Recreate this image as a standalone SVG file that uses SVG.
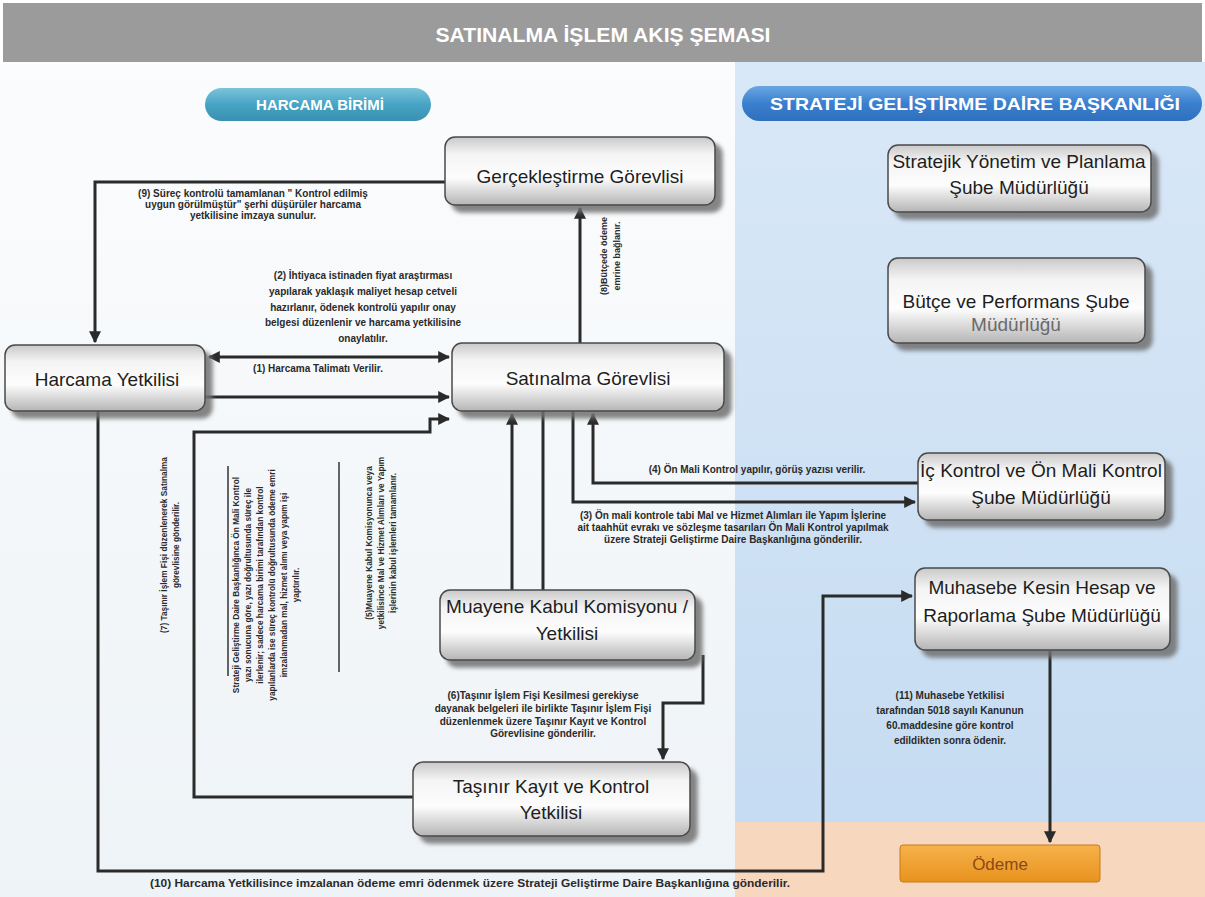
<svg xmlns="http://www.w3.org/2000/svg" width="1205" height="897" viewBox="0 0 1205 897">
<defs>
<linearGradient id="gBox" x1="0" y1="0" x2="0" y2="1">
<stop offset="0" stop-color="#c9c9c9"/><stop offset="0.25" stop-color="#f4f4f4"/><stop offset="0.6" stop-color="#fdfdfd"/><stop offset="1" stop-color="#b5b5b5"/>
</linearGradient>
<linearGradient id="gBlue" x1="0" y1="0" x2="0" y2="1"><stop offset="0" stop-color="#d9e8f7"/><stop offset="1" stop-color="#c6dcf2"/></linearGradient>
<linearGradient id="gLeft" x1="0" y1="0" x2="0" y2="1"><stop offset="0" stop-color="#fbfcfd"/><stop offset="1" stop-color="#eef3f7"/></linearGradient>
<linearGradient id="gPill1" x1="0" y1="0" x2="0" y2="1"><stop offset="0" stop-color="#7cc3dc"/><stop offset="0.5" stop-color="#46a4c4"/><stop offset="1" stop-color="#3a90b0"/></linearGradient>
<linearGradient id="gPill2" x1="0" y1="0" x2="0" y2="1"><stop offset="0" stop-color="#6aa6e2"/><stop offset="0.5" stop-color="#3a7fcf"/><stop offset="1" stop-color="#2f6fbd"/></linearGradient>
<linearGradient id="gOrange" x1="0" y1="0" x2="0" y2="1"><stop offset="0" stop-color="#f6b24a"/><stop offset="1" stop-color="#e8921e"/></linearGradient>
<filter id="sh" x="-10%" y="-20%" width="130%" height="160%"><feDropShadow dx="7" dy="7" stdDeviation="2" flood-color="#6f6f6f" flood-opacity="0.85"/></filter>
<marker id="ah" viewBox="0 0 10 10" refX="9" refY="5" markerWidth="4" markerHeight="4" orient="auto-start-reverse" markerUnits="strokeWidth"><path d="M0,0 L10,5 L0,10 z" fill="#2a2a2a"/></marker>
<style>
.box{fill:url(#gBox);stroke:#4a4a4a;stroke-width:1.5;filter:url(#sh)}
.nt{font-family:"Liberation Sans",Arial,sans-serif;font-size:19px;fill:#1e1e1e;text-anchor:middle}
.ann{font-family:"Liberation Sans",Arial,sans-serif;font-size:10px;fill:#2a2a2a;text-anchor:middle;font-weight:bold}
.vt{font-family:"Liberation Sans",Arial,sans-serif;font-size:8.3px;fill:#2a2a2a;text-anchor:middle;font-weight:bold}
.con{fill:none;stroke:#2a2a2a;stroke-width:3;stroke-linejoin:miter}
.arr{marker-end:url(#ah)}
.thin{fill:none;stroke:#333;stroke-width:1.5}
.pill{font-family:"Liberation Sans",Arial,sans-serif;font-weight:bold;fill:#fff;text-anchor:middle}
</style>
</defs>

<!-- background -->
<rect x="0" y="0" width="1205" height="897" fill="#ffffff"/>
<rect x="0" y="62" width="735" height="835" fill="url(#gLeft)"/>
<rect x="735" y="62" width="470" height="760" fill="url(#gBlue)"/>
<rect x="735" y="822" width="470" height="75" fill="#f7d8bf"/>
<rect x="3" y="3" width="1199" height="59" fill="#9b9b9b"/>
<text x="603" y="42" class="pill" font-size="20" textLength="335" lengthAdjust="spacingAndGlyphs">SATINALMA İŞLEM AKIŞ ŞEMASI</text>

<g id="lane-harcama">
<rect x="205" y="88" width="226" height="33" rx="16.5" fill="url(#gPill1)"/>
<text x="320" y="110" class="pill" font-size="15">HARCAMA BİRİMİ</text>
</g>
<g id="lane-sgdb">
<rect x="742" y="86" width="460" height="35" rx="17.5" fill="url(#gPill2)"/>
<text x="975" y="110" class="pill" font-size="17" textLength="410" lengthAdjust="spacingAndGlyphs">STRATEJİ GELİŞTİRME DAİRE BAŞKANLIĞI</text>
</g>

<!-- connectors -->
<g id="connectors">
<path class="con arr" d="M445,182 H95 V342"/>
<path class="con arr" d="M580,343 V208"/>
<path class="con arr" d="M209,357 H449" marker-start="url(#ah)"/>
<path class="con arr" d="M205,397 H449"/>
<path class="con arr" d="M512,590 V414"/>
<path class="con" d="M543,411 V590"/>
<path class="con arr" d="M703,655 V703 H663 V759"/>
<path class="con arr" d="M573,411 V502 H915"/>
<path class="con arr" d="M918,483 H593 V414"/>
<path class="con arr" d="M413,797 H194 V432 H430 V419 H449"/>
<path class="con arr" d="M98,411 V871 H823 V596 H912"/>
<path class="con arr" d="M1050,651 V842"/>
<path class="thin" d="M228,466 V676"/>
<path class="thin" d="M339,462 V672"/>
</g>

<!-- annotations -->
<g id="labels">
<text class="ann" x="253" y="197">(9) Süreç kontrolü tamamlanan " Kontrol edilmiş</text>
<text class="ann" x="253" y="208">uygun görülmüştür" şerhi düşürüler harcama</text>
<text class="ann" x="253" y="219">yetkilisine imzaya sunulur.</text>

<text class="ann" x="363" y="279">(2) İhtiyaca istinaden fiyat araştırması</text>
<text class="ann" x="363" y="295">yapılarak yaklaşık maliyet hesap cetveli</text>
<text class="ann" x="363" y="311">hazırlanır, ödenek kontrolü yapılır onay</text>
<text class="ann" x="363" y="326">belgesi düzenlenir ve harcama yetkilisine</text>
<text class="ann" x="363" y="342">onaylatılır.</text>
<text class="ann" x="318" y="372">(1) Harcama Talimatı Verilir.</text>

<text class="vt" style="font-size:9px" transform="translate(607,256) rotate(-90)">(8)Bütçede ödeme</text>
<text class="vt" style="font-size:9px" transform="translate(620,256) rotate(-90)">emrine bağlanır.</text>

<text class="ann" x="757" y="473">(4) Ön Mali Kontrol yapılır, görüş yazısı verilir.</text>
<text class="ann" x="733" y="519">(3) Ön mali kontrole tabi Mal ve Hizmet Alımları ile Yapım İşlerine</text>
<text class="ann" x="733" y="531">ait taahhüt evrakı ve sözleşme tasarıları Ön Mali Kontrol yapılmak</text>
<text class="ann" x="733" y="543">üzere Strateji Geliştirme Daire Başkanlığına gönderilir.</text>

<text class="vt" transform="translate(167,545) rotate(-90)">(7) Taşınır İşlem Fişi düzenlenerek Satınalma</text>
<text class="vt" transform="translate(179,545) rotate(-90)">görevlisine gönderilir.</text>

<text class="vt" transform="translate(239,585) rotate(-90)">Strateji Geliştirme Daire Başkanlığınca Ön Mali Kontrol</text>
<text class="vt" transform="translate(251,585) rotate(-90)">yazı sonucuna göre, yazı doğrultusunda süreç ile</text>
<text class="vt" transform="translate(263,585) rotate(-90)">ilerlenir; sadece harcama birimi tarafından kontrol</text>
<text class="vt" transform="translate(275,585) rotate(-90)">yapılanlarda ise süreç kontrolü doğrultusunda ödeme emri</text>
<text class="vt" transform="translate(287,585) rotate(-90)">imzalanmadan mal, hizmet alımı veya yapım işi</text>
<text class="vt" transform="translate(299,585) rotate(-90)">yaptırılır.</text>

<text class="vt" transform="translate(372,543) rotate(-90)">(5)Muayene Kabul Komisyonunca veya</text>
<text class="vt" transform="translate(384,543) rotate(-90)">yetkilisince Mal ve Hizmet Alımları ve Yapım</text>
<text class="vt" transform="translate(396,543) rotate(-90)">İşlerinin kabul işlemleri tamamlanır.</text>

<text class="ann" x="543" y="699">(6)Taşınır İşlem Fişi Kesilmesi gerekiyse</text>
<text class="ann" x="543" y="712">dayanak belgeleri ile birlikte Taşınır İşlem Fişi</text>
<text class="ann" x="543" y="725">düzenlenmek üzere Taşınır Kayıt ve Kontrol</text>
<text class="ann" x="543" y="737">Görevlisine gönderilir.</text>

<text class="ann" x="950" y="699">(11) Muhasebe Yetkilisi</text>
<text class="ann" x="950" y="714">tarafından 5018 sayılı Kanunun</text>
<text class="ann" x="950" y="729">60.maddesine göre kontrol</text>
<text class="ann" x="950" y="744">edildikten sonra ödenir.</text>

<text class="ann" x="470" y="887" textLength="640" lengthAdjust="spacingAndGlyphs">(10) Harcama Yetkilisince imzalanan ödeme emri ödenmek üzere Strateji Geliştirme Daire Başkanlığına gönderilir.</text>
</g>

<!-- nodes -->
<g id="n-gerceklestirme"><rect class="box" x="445" y="137" width="270" height="68" rx="10"/><text class="nt" x="580" y="183">Gerçekleştirme Görevlisi</text></g>
<g id="n-harcama"><rect class="box" x="5" y="345" width="200" height="66" rx="10"/><text class="nt" x="107" y="386">Harcama Yetkilisi</text></g>
<g id="n-satinalma"><rect class="box" x="452" y="343" width="272" height="68" rx="10"/><text class="nt" x="588" y="385">Satınalma Görevlisi</text></g>
<g id="n-stratejik"><rect class="box" x="888" y="145" width="263" height="67" rx="10"/><text class="nt" x="1019" y="168">Stratejik Yönetim ve Planlama</text><text class="nt" x="1019" y="194">Şube Müdürlüğü</text></g>
<g id="n-butce"><rect class="box" x="888" y="258" width="257" height="85" rx="10"/><text class="nt" x="1016" y="308">Bütçe ve Performans Şube</text><text class="nt" x="1016" y="331" style="fill:#6a6a6a">Müdürlüğü</text></g>
<g id="n-ickontrol"><rect class="box" x="918" y="453" width="247" height="67" rx="10"/><text class="nt" x="1041" y="477">İç Kontrol ve Ön Mali Kontrol</text><text class="nt" x="1041" y="504">Şube Müdürlüğü</text></g>
<g id="n-muhasebe"><rect class="box" x="915" y="568" width="255" height="82" rx="10"/><text class="nt" x="1042" y="594">Muhasebe Kesin Hesap ve</text><text class="nt" x="1042" y="622">Raporlama Şube Müdürlüğü</text></g>
<g id="n-muayene"><rect class="box" x="440" y="590" width="255" height="70" rx="10"/><text class="nt" x="567" y="613">Muayene Kabul Komisyonu /</text><text class="nt" x="567" y="640">Yetkilisi</text></g>
<g id="n-tasinir"><rect class="box" x="413" y="762" width="277" height="74" rx="10"/><text class="nt" x="551" y="793">Taşınır Kayıt ve Kontrol</text><text class="nt" x="551" y="819">Yetkilisi</text></g>
<g id="n-odeme"><rect x="900" y="845" width="200" height="37" rx="3" fill="url(#gOrange)" stroke="#c77a1a" stroke-width="1"/><text class="nt" x="1000" y="870" style="fill:#8a4a14;font-size:17px">Ödeme</text></g>
</svg>
